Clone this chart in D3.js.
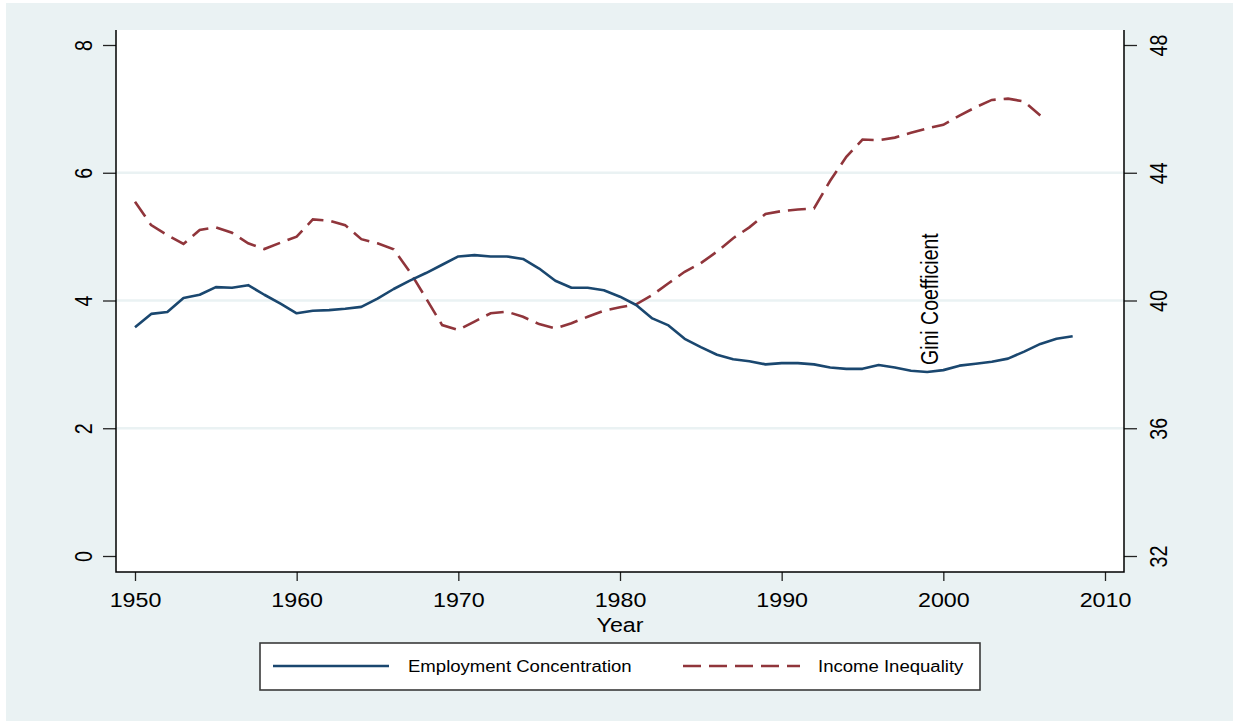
<!DOCTYPE html>
<html>
<head>
<meta charset="utf-8">
<script src="https://cdn.jsdelivr.net/npm/d3@7"></script>
<style>
	body { margin: 0; background: #ffffff; }
	text { font-family: "Liberation Sans", Arial, sans-serif; fill: #000000; }
</style>
</head>
<body>
<svg id="chart" width="1233" height="721"></svg>
<script>
var years = [1950, 1951, 1952, 1953, 1954, 1955, 1956, 1957, 1958, 1959,
	1960, 1961, 1962, 1963, 1964, 1965, 1966, 1967, 1968, 1969,
	1970, 1971, 1972, 1973, 1974, 1975, 1976, 1977, 1978, 1979,
	1980, 1981, 1982, 1983, 1984, 1985, 1986, 1987, 1988, 1989,
	1990, 1991, 1992, 1993, 1994, 1995, 1996, 1997, 1998, 1999,
	2000, 2001, 2002, 2003, 2004, 2005, 2006, 2007, 2008];

// employment concentration, left axis, 1950-2008
var employment = [3.58, 3.79, 3.82, 4.04, 4.09, 4.21, 4.20, 4.24, 4.09, 3.95,
	3.80, 3.84, 3.85, 3.87, 3.90, 4.03, 4.18, 4.31, 4.43, 4.56,
	4.69, 4.71, 4.69, 4.69, 4.65, 4.50, 4.31, 4.20, 4.20, 4.16,
	4.06, 3.93, 3.72, 3.61, 3.40, 3.27, 3.15, 3.08, 3.05, 3.00,
	3.02, 3.02, 3.00, 2.95, 2.93, 2.93, 2.99, 2.95, 2.90, 2.88,
	2.91, 2.98, 3.01, 3.04, 3.09, 3.20, 3.32, 3.40, 3.44];

// gini coefficient, right axis, 1950-2006
var gini = [43.09, 42.36, 42.05, 41.77, 42.21, 42.29, 42.12, 41.79, 41.61, 41.81,
	42.00, 42.54, 42.50, 42.36, 41.92, 41.79, 41.60, 40.90, 40.07, 39.23,
	39.08, 39.34, 39.60, 39.65, 39.49, 39.26, 39.13, 39.29, 39.49, 39.68,
	39.79, 39.88, 40.17, 40.54, 40.90, 41.17, 41.53, 41.95, 42.29, 42.71,
	42.80, 42.85, 42.88, 43.75, 44.50, 45.04, 45.02, 45.10, 45.25, 45.39,
	45.50, 45.79, 46.05, 46.28, 46.32, 46.23, 45.79];

var xTicks = [1950, 1960, 1970, 1980, 1990, 2000, 2010];
var leftTicks = [0, 2, 4, 6, 8];
var rightTicks = [32, 36, 40, 44, 48];
var gridTicks = [2, 4, 6];
var seriesNames = ["Employment Concentration", "Income Inequality"];
var note = {text: "Gini Coefficient", year: 1999.7, value: 2.99};

(function () {

	var svg = d3.select("#chart"),
		plot = {left: 116, right: 1124, top: 30, bottom: 572},
		sx = 1.18, // the source picture is stretched sideways
		navy = "#1a476f",
		maroon = "#90353b",
		dash = "18,8";

	var x = d3.scaleLinear().domain([1950, 2010]).range([135, 1105]);
	var yL = d3.scaleLinear().domain([0, 8]).range([556, 45]);
	var yR = d3.scaleLinear().domain([32, 48]).range([556, 45]);

	svg.append("rect")
		.attr("x", 6).attr("y", 3)
		.attr("width", 1233 - 6).attr("height", 721 - 3)
		.style("fill", "#eaf2f3");

	svg.append("rect")
		.attr("x", plot.left).attr("y", plot.top)
		.attr("width", plot.right - plot.left).attr("height", plot.bottom - plot.top)
		.style("fill", "#ffffff");

	svg.selectAll(".grid")
		.data(gridTicks)
		.enter()
		.append("line")
		.attr("class", "grid")
		.attr("x1", plot.left).attr("x2", plot.right)
		.attr("y1", function (d) { return yL(d); })
		.attr("y2", function (d) { return yL(d); })
		.style("stroke", "#eaf2f3")
		.style("stroke-width", 2.5);

	// axes
	var gL = svg.append("g")
		.attr("transform", "translate(" + plot.left + ",0)")
		.call(d3.axisLeft(yL).tickValues(leftTicks).tickSize(13).tickSizeOuter(0));
	var gR = svg.append("g")
		.attr("transform", "translate(" + plot.right + ",0)")
		.call(d3.axisRight(yR).tickValues(rightTicks).tickSize(13).tickSizeOuter(0));
	var gB = svg.append("g")
		.attr("transform", "translate(0," + plot.bottom + ")")
		.call(d3.axisBottom(x).tickValues(xTicks).tickFormat(d3.format("d")).tickSize(9).tickSizeOuter(0));

	[gL, gR, gB].forEach(function (g) {
		g.select(".domain").remove();
		g.selectAll(".tick line").style("stroke", "#222").style("stroke-width", 1.3);
		g.selectAll(".tick text")
			.style("font-size", "19.7px")
			.style("font-family", "'Liberation Sans', Arial, sans-serif")
			.style("fill", "#000");
	});

	gL.selectAll(".tick text")
		.attr("x", null).attr("y", null).attr("dy", null)
		.attr("text-anchor", "middle")
		.attr("transform", "translate(-24.5,0) scale(" + sx + ",1) rotate(-90)");
	gR.selectAll(".tick text")
		.attr("x", null).attr("y", null).attr("dy", null)
		.attr("text-anchor", "middle")
		.attr("transform", "translate(42.5,0) scale(" + sx + ",1) rotate(-90)");
	gB.selectAll(".tick text")
		.attr("y", null).attr("dy", null)
		.attr("transform", "translate(0,35) scale(" + sx + ",1)");

	// plot frame: left, right and bottom
	svg.append("path")
		.attr("d", "M" + plot.left + "," + plot.top + "V" + plot.bottom + "H" + plot.right + "V" + plot.top)
		.style("fill", "none")
		.style("stroke", "#000")
		.style("stroke-width", 1.5);

	svg.append("text")
		.text("Year")
		.attr("text-anchor", "middle")
		.attr("transform", "translate(" + x(1980) + ",632) scale(" + sx + ",1)")
		.style("font-size", "19.7px");

	// series
	var lineL = d3.line()
		.x(function (d, i) { return x(years[i]); })
		.y(function (d) { return yL(d); });
	var lineR = d3.line()
		.x(function (d, i) { return x(years[i]); })
		.y(function (d) { return yR(d); });

	svg.append("path")
		.datum(gini)
		.attr("d", lineR)
		.style("fill", "none")
		.style("stroke", maroon)
		.style("stroke-width", 2.6)
		.style("stroke-dasharray", dash);

	svg.append("path")
		.datum(employment)
		.attr("d", lineL)
		.style("fill", "none")
		.style("stroke", navy)
		.style("stroke-width", 2.6)
		.style("stroke-linejoin", "round");

	svg.append("text")
		.text(note.text)
		.attr("transform", "translate(" + x(note.year) + "," + yL(note.value) + ") scale(" + sx + ",1) rotate(-90)")
		.style("font-size", "19.5px");

	// legend
	var lg = svg.append("g");
	lg.append("rect")
		.attr("x", 260).attr("y", 643)
		.attr("width", 720).attr("height", 47)
		.style("fill", "#ffffff")
		.style("stroke", "#3a3a3a")
		.style("stroke-width", 1.6);

	var keys = [
		{x1: 273, x2: 389, tx: 408, color: navy, dash: null},
		{x1: 683, x2: 800, tx: 818, color: maroon, dash: dash}
	];
	keys.forEach(function (k, i) {
		lg.append("line")
			.attr("x1", k.x1).attr("x2", k.x2)
			.attr("y1", 666).attr("y2", 666)
			.style("stroke", k.color)
			.style("stroke-width", 2.6)
			.style("stroke-dasharray", k.dash);
		lg.append("text")
			.text(seriesNames[i])
			.attr("transform", "translate(" + k.tx + ",672) scale(1.16,1)")
			.style("font-size", "16px");
	});
})();
</script>
</body>
</html>
